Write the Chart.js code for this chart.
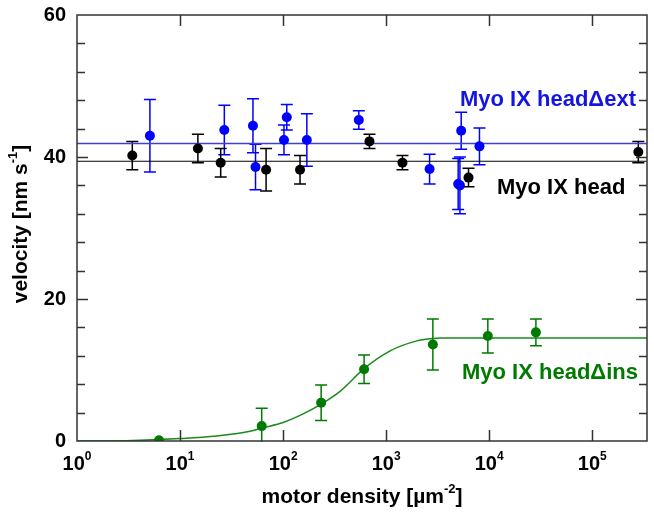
<!DOCTYPE html>
<html>
<head>
<meta charset="utf-8">
<script src="https://cdn.jsdelivr.net/npm/chart.js@4.4.1/dist/chart.umd.min.js"></script>
<style>
  html, body { margin: 0; padding: 0; background: #fff; }
  #wrap { width: 654px; height: 515px; }
</style>
</head>
<body>
<div id="wrap"><canvas id="myChart" width="654" height="515"></canvas></div>
<script>
// motor density [um^-2] and velocity [nm/s]
const headX = [3.44, 14.9, 24.8, 68.4, 146, 689, 1440, 6300, 280000];
const headY = [40.2, 41.2, 39.2, 38.2, 38.2, 42.2, 39.2, 37.1, 40.7];
const headErr = [2, 2, 2, 3, 2, 1, 1, 1.3, 1.5];

const extX = [5.1, 26.9, 51, 54, 102, 108.6, 170, 543, 2640, 5350, 5000, 5200, 8050];
const extY = [43.0, 43.8, 44.4, 38.6, 42.4, 45.6, 42.4, 45.2, 38.3, 43.7, 36.2, 36.0, 41.5];
const extErr = [5.1, 3.5, 3.8, 3.2, 2.1, 1.8, 3.7, 1.3, 2.1, 2.6, 3.6, 4.0, 2.6];

const insX = [6.25, 62, 234, 611, 2840, 9700, 28400];
const insY = [0.1, 2.1, 5.4, 10.1, 13.6, 14.8, 15.3];
const insErr = [0, 2.5, 2.5, 2, 3.6, 2.4, 1.9];

// fitted lines
const headMean = 39.4;
const extMean = 41.9;
const fitX = [1, 3, 10, 22.7, 47.8, 62.5, 100, 146, 234, 357, 611, 1094, 1986, 2673, 3500, 340000];
const fitY = [0, 0.05, 0.34, 0.7, 1.37, 1.83, 2.6, 3.6, 5.2, 7.0, 10.2, 12.7, 14.1, 14.4, 14.5, 14.5];

const xDecades = [1, 10, 100, 1000, 10000, 100000];
const xExp = ['0', '1', '2', '3', '4', '5'];
const yTicks = [0, 20, 40, 60];

const xMin = 1, xMax = 340000;

const BLUE = '#0000ff';
const GREEN = '#007a00';
const FONT = '"Liberation Sans", Arial, sans-serif';

function pts(xs, ys) { return xs.map((x, i) => ({ x: x, y: ys[i] })); }

function supText(ctx, parts, x, y, size) {
  // parts: [text, isSup]
  let w = 0;
  for (const p of parts) {
    ctx.font = 'bold ' + (p[1] ? Math.round(size * 0.62) : size) + 'px ' + FONT;
    w += ctx.measureText(p[0]).width;
  }
  let cx = x - w / 2;
  ctx.textAlign = 'left';
  ctx.textBaseline = 'middle';
  for (const p of parts) {
    ctx.font = 'bold ' + (p[1] ? Math.round(size * 0.62) : size) + 'px ' + FONT;
    ctx.fillText(p[0], cx, p[1] ? y - size * 0.38 : y);
    cx += ctx.measureText(p[0]).width;
  }
}

const errorBars = {
  id: 'errorBars',
  beforeDatasetsDraw(chart) {
    const ctx = chart.ctx, xs = chart.scales.x, ys = chart.scales.y;
    const a = chart.chartArea;
    const sets = [[extX, extY, extErr, BLUE], [headX, headY, headErr, '#000'], [insX, insY, insErr, GREEN]];
    ctx.save();
    ctx.beginPath();
    ctx.rect(a.left, a.top, a.right - a.left, a.bottom - a.top + 1);
    ctx.clip();
    ctx.lineWidth = 1.5;
    for (const s of sets) {
      ctx.strokeStyle = s[3];
      for (let i = 0; i < s[0].length; i++) {
        if (!s[2][i]) continue;
        const px = xs.getPixelForValue(s[0][i]);
        const t = ys.getPixelForValue(s[1][i] + s[2][i]);
        const b = ys.getPixelForValue(s[1][i] - s[2][i]);
        ctx.beginPath();
        ctx.moveTo(px, t); ctx.lineTo(px, b);
        ctx.moveTo(px - 6, t); ctx.lineTo(px + 6, t);
        ctx.moveTo(px - 6, b); ctx.lineTo(px + 6, b);
        ctx.stroke();
      }
    }
    ctx.restore();
  }
};

const frame = {
  id: 'frame',
  afterDraw(chart) {
    const ctx = chart.ctx, xs = chart.scales.x, ys = chart.scales.y;
    const a = chart.chartArea;
    ctx.save();
    ctx.strokeStyle = '#333';
    ctx.lineWidth = 1.5;
    ctx.strokeRect(a.left, a.top, a.right - a.left, a.bottom - a.top);
    ctx.beginPath();
    // x decade ticks, bottom and top, pointing inward
    for (const v of xDecades.slice(1)) {
      const px = Math.round(xs.getPixelForValue(v)) + 0.5;
      ctx.moveTo(px, a.bottom); ctx.lineTo(px, a.bottom - 11);
      ctx.moveTo(px, a.top); ctx.lineTo(px, a.top + 11);
    }
    // y ticks every 4, major every 20
    for (let v = 4; v < 60; v += 4) {
      const py = Math.round(ys.getPixelForValue(v)) + 0.5;
      const len = v % 20 === 0 ? 11 : 8;
      ctx.moveTo(a.left, py); ctx.lineTo(a.left + len, py);
      ctx.moveTo(a.right, py); ctx.lineTo(a.right - len, py);
    }
    ctx.stroke();

    ctx.fillStyle = '#000';
    // y tick labels
    ctx.font = 'bold 20px ' + FONT;
    ctx.textAlign = 'right';
    ctx.textBaseline = 'middle';
    for (const v of yTicks) ctx.fillText(String(v), 66, ys.getPixelForValue(v));
    // x tick labels 10^n
    xDecades.forEach((v, i) => {
      supText(ctx, [['10', false], [xExp[i], true]], xs.getPixelForValue(v), 464, 20);
    });
    // axis titles
    supText(ctx, [['motor density [µm', false], ['-2', true], [']', false]], (a.left + a.right) / 2, 497, 21);
    ctx.save();
    ctx.translate(21, (a.top + a.bottom) / 2 - 4);
    ctx.rotate(-Math.PI / 2);
    supText(ctx, [['velocity [nm s', false], ['-1', true], [']', false]], 0, 0, 21);
    ctx.restore();

    // series labels
    ctx.font = 'bold 22px ' + FONT;
    ctx.textAlign = 'left';
    ctx.textBaseline = 'alphabetic';
    ctx.fillStyle = '#1515e0';
    ctx.fillText('Myo IX head\u0394ext', 460, 106);
    ctx.fillStyle = '#000';
    ctx.fillText('Myo IX head', 497, 194);
    ctx.fillStyle = GREEN;
    ctx.fillText('Myo IX head\u0394ins', 462, 379);
    ctx.restore();
  }
};

const data = {
  datasets: [
    { type: 'scatter', label: 'head', data: pts(headX, headY), backgroundColor: '#000',
      pointRadius: 5, borderWidth: 0, order: 1 },
    { type: 'scatter', label: 'ext', data: pts(extX, extY), backgroundColor: BLUE,
      pointRadius: 5, borderWidth: 0, order: 2 },
    { type: 'scatter', label: 'ins', data: pts(insX, insY), backgroundColor: GREEN,
      pointRadius: 5, borderWidth: 0, order: 3 },
    { type: 'line', label: 'ext mean', data: pts([xMin, xMax], [extMean, extMean]),
      borderColor: '#4040d0', borderWidth: 1.5, pointRadius: 0, order: 10 },
    { type: 'line', label: 'head mean', data: pts([xMin, xMax], [headMean, headMean]),
      borderColor: '#000', borderWidth: 1.2, pointRadius: 0, order: 10 },
    { type: 'line', label: 'ins fit', data: pts(fitX, fitY), borderColor: '#1a8a1a',
      borderWidth: 1.5, pointRadius: 0, cubicInterpolationMode: 'monotone', order: 10 }
  ]
};

const config = {
  type: 'scatter',
  data: data,
  options: {
    responsive: false,
    animation: false,
    layout: { padding: { left: 77, top: 15, right: 7, bottom: 74 } },
    plugins: { legend: { display: false }, tooltip: { enabled: false } },
    scales: {
      x: { type: 'logarithmic', min: xMin, max: xMax, display: false },
      y: { type: 'linear', min: 0, max: 60, display: false }
    }
  },
  plugins: [errorBars, frame]
};

new Chart(document.getElementById('myChart'), config);
</script>
</body>
</html>
